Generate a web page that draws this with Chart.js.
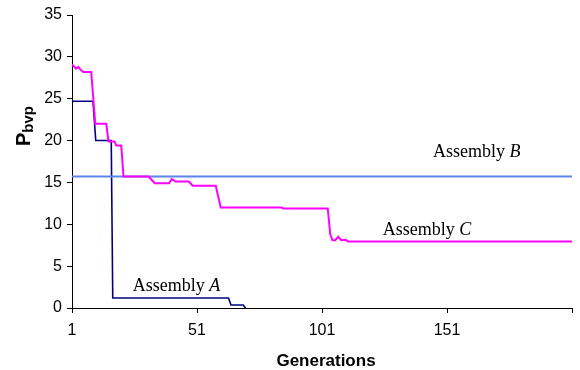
<!DOCTYPE html>
<html>
<head>
<meta charset="utf-8">
<script src="https://cdn.jsdelivr.net/npm/chart.js@4"></script>
<style>
  html, body { margin: 0; padding: 0; background: #fff; }
  canvas { display: block; }
</style>
</head>
<body>
<canvas id="chart" width="580" height="370"></canvas>
<script>
/* ── Data ── */
const xTicks = [1, 51, 101, 151, 201];

// Assembly A (navy)
const genA = [1, 9.4, 10.5, 16.7, 17.3, 63.6, 64.6, 69.5, 70.4];
const valA = [24.7, 24.7, 20.0, 20.0, 1.2, 1.2, 0.35, 0.35, 0];

// Assembly B (blue, constant)
const genB = [1, 201];
const valB = [15.7, 15.7];

// Assembly C (magenta)
const genC = [1, 2.6, 3.5, 4.3, 5.5, 8.7, 10.3, 14.7, 15.6, 18.0, 18.7, 20.7, 21.6,
              31.6, 34.1, 39.8, 40.9, 42.5, 47.7, 49.3, 58.5, 60.5, 84.9, 85.5,
              103.3, 104.3, 105.2, 106.3, 107.5, 108.7, 110.4, 111.4, 201];
const valC = [29.1, 28.6, 28.8, 28.5, 28.2, 28.2, 22.0, 22.0, 19.9, 19.9, 19.4, 19.4, 15.7,
              15.7, 14.9, 14.9, 15.4, 15.1, 15.1, 14.6, 14.6, 12.0, 12.0, 11.9,
              11.9, 8.8, 8.1, 8.1, 8.5, 8.1, 8.15, 7.95, 7.95];

const pts = (gs, vs) => gs.map((g, i) => ({ x: g, y: vs[i] }));

/* ── Text drawn on top: series labels + axis titles ── */
const annotations = {
  id: 'annotations',
  afterDraw(chart) {
    const { ctx, scales: { x, y }, chartArea } = chart;
    ctx.save();
    ctx.fillStyle = '#000';
    ctx.textBaseline = 'alphabetic';
    ctx.textAlign = 'left';

    // series labels ("Assembly " + italic letter)
    [
      { letter: 'A', gen: 25.3, val: 2.07 },
      { letter: 'B', gen: 145.4, val: 18.08 },
      { letter: 'C', gen: 125.3, val: 8.72 },
    ].forEach(l => {
      const px = x.getPixelForValue(l.gen);
      const py = y.getPixelForValue(l.val);
      ctx.font = '18px "Liberation Serif", "Times New Roman", serif';
      ctx.fillText('Assembly ', px, py);
      const w = ctx.measureText('Assembly ').width;
      ctx.font = 'italic 18px "Liberation Serif", "Times New Roman", serif';
      ctx.fillText(l.letter, px + w, py);
    });

    // x title
    ctx.font = 'bold 17px "Liberation Sans", Arial, sans-serif';
    ctx.textAlign = 'center';
    ctx.fillText('Generations', (chartArea.left + chartArea.right) / 2 + 4, 366);

    // y title P_bvp, rotated
    ctx.translate(30, 146);
    ctx.rotate(-Math.PI / 2);
    ctx.textAlign = 'left';
    ctx.font = 'bold 20px "Liberation Sans", Arial, sans-serif';
    ctx.fillText('P', 0, 0);
    const wp = ctx.measureText('P').width;
    ctx.font = 'bold 15px "Liberation Sans", Arial, sans-serif';
    ctx.fillText('bvp', wp, 3);
    ctx.restore();
  }
};

const tickFont = { family: '"Liberation Sans", Arial, sans-serif', size: 16 };

new Chart(document.getElementById('chart'), {
  type: 'line',
  data: {
    datasets: [
      { label: 'Assembly C', data: pts(genC, valC), borderColor: '#ff00ff', borderWidth: 2, order: 0 },
      { label: 'Assembly B', data: pts(genB, valB), borderColor: '#5f84ec', borderWidth: 2, order: 1 },
      { label: 'Assembly A', data: pts(genA, valA), borderColor: '#000080', borderWidth: 1.6, order: 2 },
    ],
  },
  options: {
    responsive: false,
    devicePixelRatio: 1,
    animation: false,
    parsing: false,
    elements: { point: { radius: 0 }, line: { tension: 0, fill: false } },
    layout: { padding: { top: 15, right: 3, left: 0, bottom: 0 } },
    plugins: { legend: { display: false }, tooltip: { enabled: false } },
    scales: {
      x: {
        type: 'linear',
        min: xTicks[0],
        max: xTicks[xTicks.length - 1],
        afterBuildTicks: s => { s.ticks = xTicks.map(v => ({ value: v })); },
        afterFit: s => { s.height = 62; },
        ticks: {
          color: '#000', font: tickFont, padding: 8, maxRotation: 0, autoSkip: false,
          callback: v => (v === xTicks[xTicks.length - 1] ? '' : String(v)),
        },
        grid: { display: true, drawOnChartArea: false, drawTicks: true, tickLength: 5, color: '#000' },
        border: { display: true, color: '#000', width: 1 },
      },
      y: {
        min: 0,
        max: 35,
        afterFit: s => { s.width = 72; },
        ticks: { stepSize: 5, color: '#000', font: tickFont, padding: 5 },
        grid: { display: true, drawOnChartArea: false, drawTicks: true, tickLength: 5, color: '#000' },
        border: { display: true, color: '#000', width: 1 },
      },
    },
  },
  plugins: [annotations],
});
</script>
</body>
</html>
